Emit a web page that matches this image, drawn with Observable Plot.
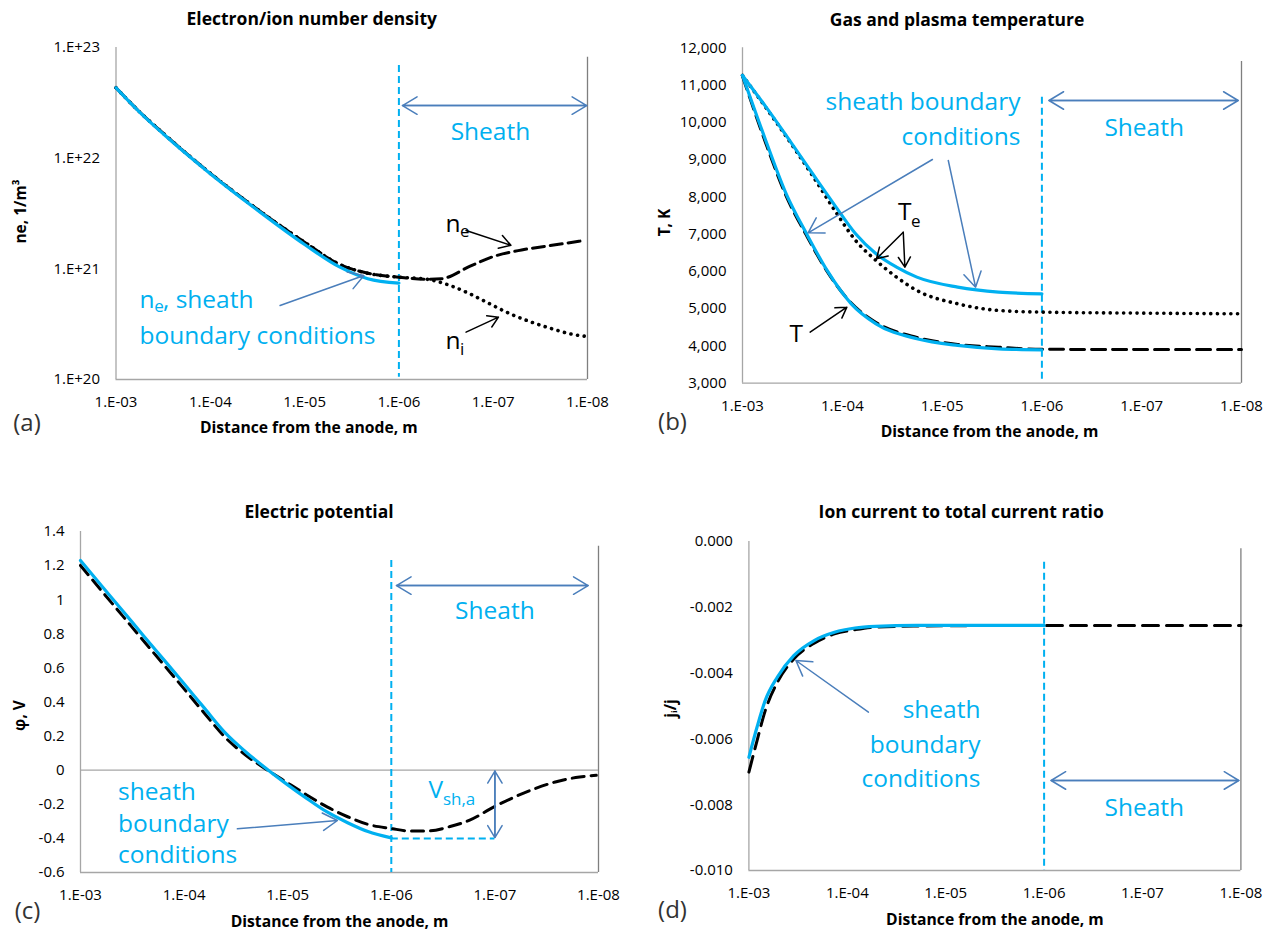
<!DOCTYPE html>
<html><head><meta charset="utf-8">
<script src="https://cdn.jsdelivr.net/npm/d3@7"></script>
<script src="https://cdn.jsdelivr.net/npm/@observablehq/plot@0.6"></script>
<style>
body{margin:0;background:#fff;}
#fig{position:relative;width:1269px;height:932px;overflow:hidden;background:#fff;font-family:"Open Sans",sans-serif;}
#fig svg{position:absolute;}
</style></head><body><div id="fig"></div>
<script>
// ---------- shared axis data ----------
const xTicks = [1e-3, 1e-4, 1e-5, 1e-6, 1e-7, 1e-8];
const xTickLabels = ["1.E-03", "1.E-04", "1.E-05", "1.E-06", "1.E-07", "1.E-08"];

// ---------- (a) electron/ion number density ----------
const aYTicks = [1e20, 1e21, 1e22, 1e23];
const aYTickLabels = ["1.E+20", "1.E+21", "1.E+22", "1.E+23"];
const aDistBC = [1e-3, 5.62e-4, 3.16e-4, 1e-4, 3.16e-5, 1e-5, 4.27e-6, 2.14e-6, 1e-6];
const aNeBC = [4.33e22, 2.61e22, 1.66e22, 7.24e21, 3.39e21, 1.66e21, 1.04e21, 8.15e20, 7.43e20];
const aDistPlasma = [1e-3, 5.62e-4, 3.16e-4, 1e-4, 3.16e-5, 1e-5, 4.27e-6, 2.14e-6, 1e-6, 5.0e-7];
const aDensPlasma = [4.33e22, 2.62e22, 1.68e22, 7.3e21, 3.45e21, 1.74e21, 1.10e21, 9.12e20, 8.41e20, 8.04e20];
const aDistNe = [3.55e-7, 1.78e-7, 1e-7, 5.0e-8, 2.51e-8, 1.2e-8];
const aNe = [8.13e20, 1.05e21, 1.29e21, 1.48e21, 1.62e21, 1.78e21];
const aDistNi = [2.88e-7, 1.78e-7, 1.07e-7, 6.46e-8, 3.98e-8, 2.4e-8, 1.48e-8, 1.02e-8];
const aNi = [7.08e20, 5.96e20, 4.79e20, 3.89e20, 3.31e20, 2.88e20, 2.57e20, 2.45e20];

// ---------- (b) gas and plasma temperature ----------
const bYTicks = [3000, 4000, 5000, 6000, 7000, 8000, 9000, 10000, 11000, 12000];
const bYTickLabels = ["3,000", "4,000", "5,000", "6,000", "7,000", "8,000", "9,000", "10,000", "11,000", "12,000"];
const bDistT = [1e-3, 5.85e-4, 3.65e-4, 2.28e-4, 1.42e-4, 8.13e-5, 4.59e-5, 1.79e-5, 6.98e-6, 2.72e-6, 1e-6];
const bTBC = [11258, 9513, 8082, 7009, 6025, 5130, 4594, 4191, 4013, 3923, 3896];
const bDistTgas = [1e-3, 5.85e-4, 3.65e-4, 2.28e-4, 1.42e-4, 8.13e-5, 4.59e-5, 1.79e-5, 6.98e-6, 2.72e-6, 1e-6, 1e-7, 1e-8];
const bTgas = [11240, 9440, 8020, 6960, 6000, 5150, 4630, 4230, 4040, 3965, 3910, 3905, 3905];
const bDistTe = [1e-3, 5.85e-4, 3.02e-4, 1.89e-4, 1.18e-4, 7.36e-5, 4.59e-5, 2.86e-5, 1.79e-5, 6.98e-6, 2.72e-6, 1e-6];
const bTeBC = [11258, 10420, 9330, 8540, 7760, 7009, 6472, 6114, 5846, 5578, 5444, 5399];
const bDistTeDot = [1e-3, 5.85e-4, 3.02e-4, 1.89e-4, 1.18e-4, 7.36e-5, 4.59e-5, 2.86e-5, 1.79e-5, 6.98e-6, 2.72e-6, 1e-6, 1e-7, 1.05e-8];
const bTe = [11258, 10400, 9300, 8480, 7620, 6830, 6293, 5846, 5488, 5130, 4952, 4907, 4880, 4862];

// ---------- (c) electric potential ----------
const cYTicks = [-0.6, -0.4, -0.2, 0, 0.2, 0.4, 0.6, 0.8, 1, 1.2, 1.4];
const cYTickLabels = ["-0.6", "-0.4", "-0.2", "0", "0.2", "0.4", "0.6", "0.8", "1", "1.2", "1.4"];
const cDistBC = [1e-3, 6.18e-4, 3.92e-4, 2.49e-4, 1.58e-4, 1e-4, 6.37e-5, 4.05e-5, 2.57e-5, 1.56e-5, 1.03e-5, 6.56e-6, 4.17e-6, 2.64e-6, 1.68e-6, 1e-6];
const cPhiBC = [1.230, 1.078, 0.935, 0.792, 0.650, 0.507, 0.364, 0.222, 0.110, 0.003, -0.080, -0.165, -0.245, -0.308, -0.360, -0.397];
const cDist = [1e-3, 6.18e-4, 3.92e-4, 2.49e-4, 1.58e-4, 1e-4, 6.37e-5, 4.05e-5, 2.57e-5, 1.56e-5, 1.03e-5, 6.56e-6, 4.17e-6, 2.64e-6, 1.68e-6, 1e-6, 6.84e-7, 4.35e-7, 2.76e-7, 1.75e-7, 1.02e-7, 6.45e-8, 4.1e-8, 2.61e-8, 1.66e-8, 1.05e-8];
const cPhi = [1.201, 1.048, 0.905, 0.762, 0.620, 0.477, 0.334, 0.195, 0.090, 0.000, -0.070, -0.145, -0.215, -0.273, -0.318, -0.342, -0.356, -0.356, -0.332, -0.293, -0.215, -0.157, -0.108, -0.069, -0.043, -0.030];

// ---------- (d) ion current to total current ratio ----------
const dYTicks = [-0.010, -0.008, -0.006, -0.004, -0.002, 0];
const dYTickLabels = ["-0.010", "-0.008", "-0.006", "-0.004", "-0.002", "0.000"];
const dDistBC = [1e-3, 8.26e-4, 6.82e-4, 5.13e-4, 3.5e-4, 2.17e-4, 1.35e-4, 8.34e-5, 5.18e-5, 1.99e-5, 1e-6];
const dRatioBC = [-0.00656, -0.00564, -0.00483, -0.00412, -0.00347, -0.00301, -0.00276, -0.00263, -0.00258, -0.00255, -0.00255];
const dDist = [1e-3, 8.26e-4, 6.82e-4, 5.13e-4, 3.5e-4, 2.17e-4, 1.35e-4, 8.34e-5, 5.18e-5, 1.99e-5, 1e-6, 1e-8];
const dRatio = [-0.00701, -0.00605, -0.00514, -0.00428, -0.00357, -0.00309, -0.00281, -0.00268, -0.00260, -0.00257, -0.00255, -0.00255];

// ---------- styles ----------
const CYAN = "#00B0F0", STEEL = "#4A7EBB", AXIS = "#A6A6A6", BORDER = "#7F7F7F";
const FONT = "Open Sans";

const line = (xs, ys, o) => Plot.line(xs, {x: xs, y: ys, curve: "monotone-x", strokeLinejoin: "round", ...o});
const cyanLine = (xs, ys) => line(xs, ys, {stroke: CYAN, strokeWidth: 3.2});
const dashed = (xs, ys, dash) => line(xs, ys, {stroke: "#000", strokeWidth: 3, strokeDasharray: dash});
const dotted = (xs, ys) => line(xs, ys, {stroke: "#000", strokeWidth: 3.6, strokeDasharray: "0.1,6.6", strokeLinecap: "round"});
const txt = (x, y, s, o = {}) => Plot.text([{x, y, s}], {x: "x", y: "y", text: "s", fontSize: 24.5, lineAnchor: "middle", fill: CYAN, ...o});
const arr = (x1, y1, x2, y2, o = {}) => Plot.arrow([{x1, y1, x2, y2}], {x1: "x1", y1: "y1", x2: "x2", y2: "y2", stroke: STEEL, strokeWidth: 1.5, headLength: 17, headAngle: 62, ...o});
const dblArr = (x1, y1, x2, y2, o) => [arr(x1, y1, x2, y2, o), arr(x2, y2, x1, y1, o)];
const vdash = (x, y1, y2) => Plot.ruleX([x], {y1: [y1], y2: [y2], stroke: CYAN, strokeWidth: 2, strokeDasharray: "7,4"});

function panel(p) {
  const svg = Plot.plot({
    width: p.width, height: p.height,
    marginLeft: p.mL, marginRight: p.mR, marginTop: p.mT, marginBottom: p.mB,
    style: {fontFamily: FONT, fontSize: "15px", color: "#000", background: "none", overflow: "visible"},
    x: {type: "log", domain: [1e-3, 1e-8]},
    y: p.y,
    marks: [
      Plot.ruleX([1e-3], {stroke: AXIS, strokeWidth: 1.3}),
      Plot.ruleY([p.y.domain[0]], {stroke: AXIS, strokeWidth: 1.3}),
      Plot.ruleX([1e-8], {y1: [p.borderTop], y2: [p.y.domain[0]], stroke: BORDER, strokeWidth: 1.3}),
      ...(p.pre || []),
      ...p.marks,
      Plot.axisX({ticks: xTicks, tickFormat: d => xTickLabels[xTicks.indexOf(d)], tickSize: 0, tickPadding: 17, label: null, fontSize: 15}),
      Plot.axisY({ticks: p.yTicks, tickFormat: d => p.yLabels[p.yTicks.indexOf(d)], tickSize: 0, tickPadding: 16, label: null, fontSize: 15}),
      Plot.text([p.title], {text: d => d, frameAnchor: "top", dx: p.tDx, dy: p.tDy, lineAnchor: "middle", fontWeight: "bold", fontSize: 17.5}),
      Plot.text(["Distance from the anode, m"], {text: d => d, frameAnchor: "bottom", dx: p.xlDx, dy: p.xlDy, lineAnchor: "middle", fontWeight: "bold", fontSize: 15.7}),
      Plot.text([p.yLabel], {text: d => d, frameAnchor: "left", rotate: -90, dx: p.ylDx, dy: p.ylDy, lineAnchor: "middle", textAnchor: "middle", fontWeight: "bold", fontSize: 15.5}),
      Plot.text([p.tag], {text: d => d, frameAnchor: "bottom-left", dx: p.tagDx, dy: p.tagDy, lineAnchor: "middle", textAnchor: "middle", fontSize: 24, fill: "#333"})
    ]
  });
  svg.style.left = p.left + "px";
  svg.style.top = p.top + "px";
  document.getElementById("fig").appendChild(svg);
}

// (a)
panel({
  left: 0, top: 0, width: 634, height: 466, mL: 115.5, mR: 47, mT: 47, mB: 87,
  y: {type: "log", domain: [1e20, 1e23]}, yTicks: aYTicks, yLabels: aYTickLabels, borderTop: 8.17e22,
  title: "Electron/ion number density", tDx: -40, tDy: -28,
  xlDx: -43, xlDy: 48.7, yLabel: "ne, 1/m³", ylDx: -95, ylDy: -2,
  tag: "(a)", tagDx: -89, tagDy: 43.7,
  marks: [
    vdash(1e-6, 6.87e22, 1.05e20),
    dashed(aDistPlasma.concat(aDistNe), aDensPlasma.concat(aNe), "12,6"),
    dotted(aDistPlasma.concat(aDistNi), aDensPlasma.concat(aNi)),
    cyanLine(aDistBC, aNeBC),
    ...dblArr(9.16e-7, 2.99e22, 1.02e-8, 2.99e22),
    txt(1.07e-7, 1.72e22, "Sheath", {textAnchor: "middle"}),
    txt(3.21e-7, 2.55e21, "n", {textAnchor: "start", fill: "#000"}),
    txt(3.21e-7, 2.55e21, "e", {textAnchor: "start", fill: "#000", fontSize: 17, dx: 14.5, dy: 8}),
    arr(1.94e-7, 2.22e21, 6.49e-8, 1.63e21, {stroke: "#000", headLength: 13}),
    txt(3.21e-7, 2.22e20, "n", {textAnchor: "start", fill: "#000"}),
    txt(3.21e-7, 2.22e20, "i", {textAnchor: "start", fill: "#000", fontSize: 17, dx: 14.5, dy: 8}),
    arr(1.94e-7, 2.68e20, 8.79e-8, 3.66e20, {stroke: "#000", headLength: 13}),
    txt(5.64e-4, 5.25e20, "n", {textAnchor: "start"}),
    txt(5.64e-4, 5.25e20, "e", {textAnchor: "start", fontSize: 17, dx: 14.8, dy: 7}),
    txt(5.64e-4, 5.25e20, ", sheath", {textAnchor: "start", dx: 23.5}),
    txt(5.64e-4, 2.45e20, "boundary conditions", {textAnchor: "start"}),
    arr(1.82e-5, 4.67e20, 2.35e-6, 8.71e20)
  ]
});

// (b)
panel({
  left: 634, top: 0, width: 635, height: 466, mL: 108, mR: 28, mT: 47.3, mB: 83.3,
  y: {domain: [3000, 12000]}, yTicks: bYTicks, yLabels: bYTickLabels, borderTop: 11632,
  title: "Gas and plasma temperature", tDx: -35, tDy: -27.3,
  xlDx: -2.5, xlDy: 48.3, yLabel: "T, K", ylDx: -77.3, ylDy: 7,
  tag: "(b)", tagDx: -70, tagDy: 39,
  marks: [
    vdash(1e-6, 10675, 3000),
    dashed(bDistTgas, bTgas, "14,7"),
    dotted(bDistTeDot, bTe),
    cyanLine(bDistT, bTBC),
    cyanLine(bDistTe, bTeBC),
    ...dblArr(8.49e-7, 10586, 1.08e-8, 10586),
    txt(9.44e-8, 9848, "Sheath", {textAnchor: "middle"}),
    txt(1.64e-6, 10540, "sheath boundary", {textAnchor: "end"}),
    txt(1.64e-6, 9600, "conditions", {textAnchor: "end"}),
    arr(1.25e-5, 9003, 2.20e-4, 7036),
    arr(8.67e-6, 8976, 4.62e-6, 5577),
    txt(2.77e-5, 7590, "T", {textAnchor: "start", fill: "#000"}),
    txt(2.77e-5, 7590, "e", {textAnchor: "start", fill: "#000", fontSize: 17, dx: 13, dy: 9}),
    arr(2.45e-5, 7052, 4.54e-5, 6339, {stroke: "#000", headLength: 12}),
    arr(2.45e-5, 7052, 2.36e-5, 6113, {stroke: "#000", headLength: 12}),
    txt(3.38e-4, 4326, "T", {textAnchor: "start", fill: "#000"}),
    arr(2.10e-4, 4369, 9.0e-5, 5040, {stroke: "#000", headLength: 12})
  ]
});

// (c)
panel({
  left: 0, top: 466, width: 634, height: 466, mL: 80, mR: 36, mT: 65, mB: 60,
  y: {domain: [-0.6, 1.4]}, yTicks: cYTicks, yLabels: cYTickLabels, borderTop: 1.314,
  title: "Electric potential", tDx: -20.5, tDy: -19.3,
  xlDx: 0, xlDy: 49.7, yLabel: "φ, V", ylDx: -60, ylDy: 13.5,
  tag: "(c)", tagDx: -53, tagDy: 38.7,
  pre: [Plot.ruleY([0], {stroke: AXIS, strokeWidth: 1.3})],
  marks: [
    vdash(1e-6, 1.23, -0.6),
    Plot.ruleY([-0.4], {x1: [1e-6], x2: [1e-7], stroke: CYAN, strokeWidth: 2, strokeDasharray: "7,4"}),
    dashed(cDist, cPhi, "12,7"),
    cyanLine(cDistBC, cPhiBC),
    ...dblArr(8.91e-7, 1.083, 1.26e-8, 1.083),
    txt(1e-7, 0.933, "Sheath", {textAnchor: "middle"}),
    ...dblArr(1e-7, -0.005, 1e-7, -0.395, {headLength: 14}),
    txt(4.38e-7, -0.119, "V", {textAnchor: "start"}),
    txt(4.38e-7, -0.119, "sh,a", {textAnchor: "start", fontSize: 17, dx: 14.5, dy: 9}),
    txt(4.34e-4, -0.127, "sheath", {textAnchor: "start"}),
    txt(4.34e-4, -0.315, "boundary", {textAnchor: "start"}),
    txt(4.34e-4, -0.500, "conditions", {textAnchor: "start"}),
    arr(3.06e-5, -0.344, 3.31e-6, -0.295)
  ]
});

// (d)
panel({
  left: 634, top: 466, width: 635, height: 466, mL: 114.4, mR: 28.6, mT: 75, mB: 62,
  y: {domain: [-0.010, 0]}, yTicks: dYTicks, yLabels: dYTickLabels, borderTop: -0.00022,
  title: "Ion current to total current ratio", tDx: -33.7, tDy: -29.3,
  xlDx: 0, xlDy: 49, yLabel: "jᵢ/j", ylDx: -77.4, ylDy: 2.5,
  tag: "(d)", tagDx: -76.4, tagDy: 40,
  marks: [
    vdash(1e-6, -0.00063, -0.010),
    dashed(dDist, dRatio, "16,8"),
    cyanLine(dDistBC, dRatioBC),
    ...dblArr(8.49e-7, -0.007264, 1.05e-8, -0.007264),
    txt(9.6e-8, -0.008094, "Sheath", {textAnchor: "middle"}),
    txt(4.43e-6, -0.005116, "sheath", {textAnchor: "end"}),
    txt(4.43e-6, -0.006179, "boundary", {textAnchor: "end"}),
    txt(4.43e-6, -0.007213, "conditions", {textAnchor: "end"}),
    arr(6.1e-5, -0.005188, 3.33e-4, -0.003617)
  ]
});
</script></body></html>
